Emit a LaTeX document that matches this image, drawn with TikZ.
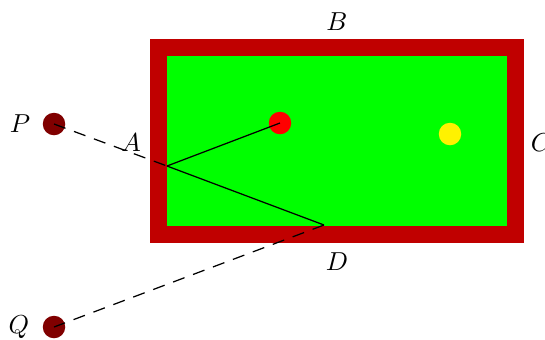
\documentclass[tikz,border=0pt]{standalone}
\begin{document}
\begin{tikzpicture}[x=0.385pt,y=-0.385pt,
  ball/.style={circle,inner sep=0pt,minimum size=22.5*0.385pt},
  lbl/.style={inner sep=0pt,font=\normalsize},
  cue/.style={line width=0.48pt},
  guide/.style={cue,dash pattern=on 4.7pt off 3.5pt}]
\useasboundingbox (0,0) rectangle (545,339);
\definecolor{cushion}{RGB}{192,0,0}
\definecolor{felt}{RGB}{0,255,0}
\definecolor{darkball}{RGB}{128,0,0}
% table
\fill[cushion] (150,39) rectangle (524,243);
\fill[felt] (167,56) rectangle (507,226);
% balls
\node[ball,fill=darkball] (p) at (54,124) {};
\node[ball,fill=darkball] (q) at (54,327) {};
\node[ball,fill=red] (r) at (280,123) {};
\node[ball,fill=yellow] (y) at (450,134) {};
% bounce points
\coordinate (a) at (167,166);
\coordinate (d) at (324,225);
% labels
\node[lbl] (lp) at (20,124) {$P$};
\node[lbl] (lq) at (19,327) {$Q$};
\node[lbl] (la) at (131,143) {$A$};
\node[lbl] (lb) at (337,22) {$B$};
\node[lbl] (lc) at (541,143) {$C$};
\node[lbl] (ld) at (337,262) {$D$};
% paths
\draw[guide] (p.center) -- (a);
\draw[cue] (a) -- (r.center);
\draw[cue] (a) -- (d);
\draw[guide] (d) -- (q.center);
\end{tikzpicture}
\end{document}
